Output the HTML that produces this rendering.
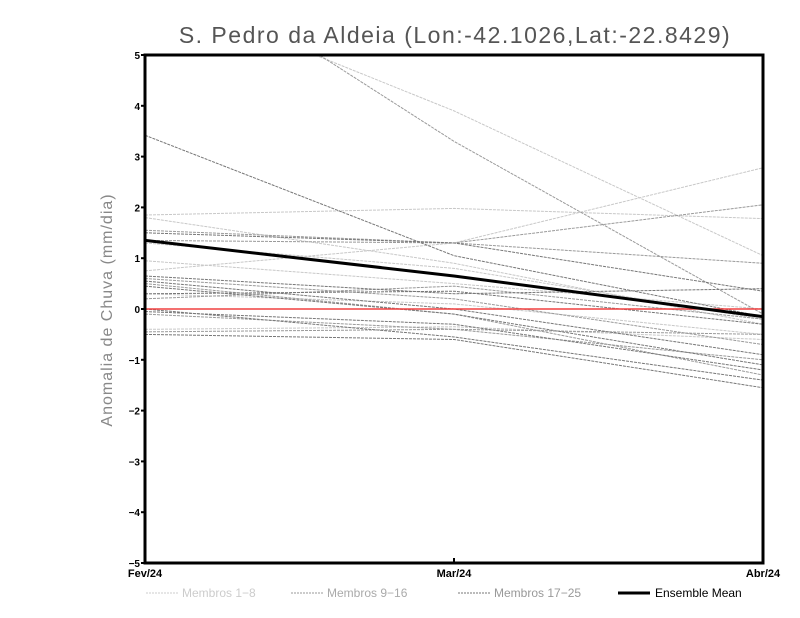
<!DOCTYPE html>
<html><head><meta charset="utf-8"><style>
body{margin:0;background:#fff;}
svg{display:block;font-family:"Liberation Sans",sans-serif;}
</style></head><body>
<svg id="chart" width="800" height="618">
<text x="455" y="43" text-anchor="middle" font-size="23" fill="#555" letter-spacing="1.5">S. Pedro da Aldeia (Lon:-42.1026,Lat:-22.8429)</text>
<text transform="translate(112,310) rotate(-90)" text-anchor="middle" font-size="16" fill="#888" letter-spacing="1">Anomalia de Chuva (mm/dia)</text>
<g id="plot"></g>
<g id="legend" font-size="12">
<line x1="146" y1="593" x2="178" y2="593" stroke="#ccc" stroke-dasharray="2,1"/>
<text x="182" y="597" fill="#ccc">Membros 1−8</text>
<line x1="291" y1="593" x2="323" y2="593" stroke="#999" stroke-dasharray="2,1"/>
<text x="327" y="597" fill="#aaa">Membros 9−16</text>
<line x1="458" y1="593" x2="490" y2="593" stroke="#777" stroke-dasharray="2,1"/>
<text x="494" y="597" fill="#999">Membros 17−25</text>
<line x1="618" y1="593" x2="650" y2="593" stroke="#000" stroke-width="3"/>
<text x="655" y="597" fill="#000">Ensemble Mean</text>
</g>
</svg>
<script>
const categories = ["Fev/24","Mar/24","Abr/24"];
const yTicks = [-5,-4,-3,-2,-1,0,1,2,3,4,5];
const members1to8 = [[1.85,1.98,1.78],[6.35,3.9,1.05],[1.8,0.9,-0.3],[0.95,0.5,0.0],[0.75,1.3,2.78],[-0.4,-0.35,-0.6],[1.3,0.8,-0.2],[0.3,0.1,-0.5]];
const members9to16 = [[7.2,3.3,-0.1],[1.55,1.3,2.05],[0.6,0.2,-0.7],[-0.1,-0.4,-1.0],[0.2,0.45,-0.2],[1.35,1.3,0.9],[-0.45,-0.4,-0.5],[0.5,-0.1,-1.3]];
const members17to25 = [[3.42,1.05,-0.15],[1.5,1.3,0.35],[0.55,0.0,-0.9],[0.45,-0.1,-1.1],[0.0,-0.55,-1.4],[-0.5,-0.6,-1.55],[0.65,0.3,0.4],[-0.05,-0.3,-1.2],[0.3,0.35,-0.3]];
const ensembleMean = [1.35,0.65,-0.15];

const X0=145,X1=763,Y0=563,Y1=55,NS="http://www.w3.org/2000/svg";
const xs=i=>X0+(X1-X0)*i/(categories.length-1);
const ys=v=>Y0-(v-(-5))*(Y0-Y1)/10;
const g=document.getElementById('plot');
function mk(t,a){const e=document.createElementNS(NS,t);for(const k in a)e.setAttribute(k,a[k]);g.appendChild(e);return e;}
const cp=mk('clipPath',{id:'clip'});
const cr=document.createElementNS(NS,'rect');
cr.setAttribute('x',X0);cr.setAttribute('y',Y1);cr.setAttribute('width',X1-X0);cr.setAttribute('height',Y0-Y1);cp.appendChild(cr);
function series(arr,color,name){arr.forEach((d,j)=>{const p=mk('polyline',{points:d.map((v,i)=>xs(i)+','+ys(v)).join(' '),fill:'none',stroke:color,'stroke-width':1,'stroke-dasharray':'3,1','clip-path':'url(#clip)'});

});}
series(members1to8,'#c8c8c8','member-light');
series(members9to16,'#9a9a9a','member-medium');
series(members17to25,'#777','member-dark');
const z=mk('line',{x1:X0,x2:X1,y1:ys(0),y2:ys(0),stroke:'#f04040','stroke-width':1.5});


const m=mk('polyline',{points:ensembleMean.map((v,i)=>xs(i)+','+ys(v)).join(' '),fill:'none',stroke:'#000','stroke-width':3,'clip-path':'url(#clip)'});


const fr=mk('rect',{x:X0,y:Y1,width:X1-X0,height:Y0-Y1,fill:'none',stroke:'#000','stroke-width':3});


yTicks.forEach(v=>{const t=mk('line',{x1:X0-4,x2:X0,y1:ys(v),y2:ys(v),stroke:'#000','stroke-width':2});


const l=mk('text',{x:X0-5,y:ys(v)+4,'text-anchor':'end','font-size':10,'font-weight':'bold'});l.textContent=String(v).replace('-','−');

});
categories.forEach((c,i)=>{const t=mk('line',{x1:xs(i),x2:xs(i),y1:Y0,y2:Y0-5,stroke:'#000','stroke-width':2});


const l=mk('text',{x:xs(i),y:Y0+14,'text-anchor':'middle','font-size':11,'font-weight':'bold'});l.textContent=c;

});
</script>
</body></html>
